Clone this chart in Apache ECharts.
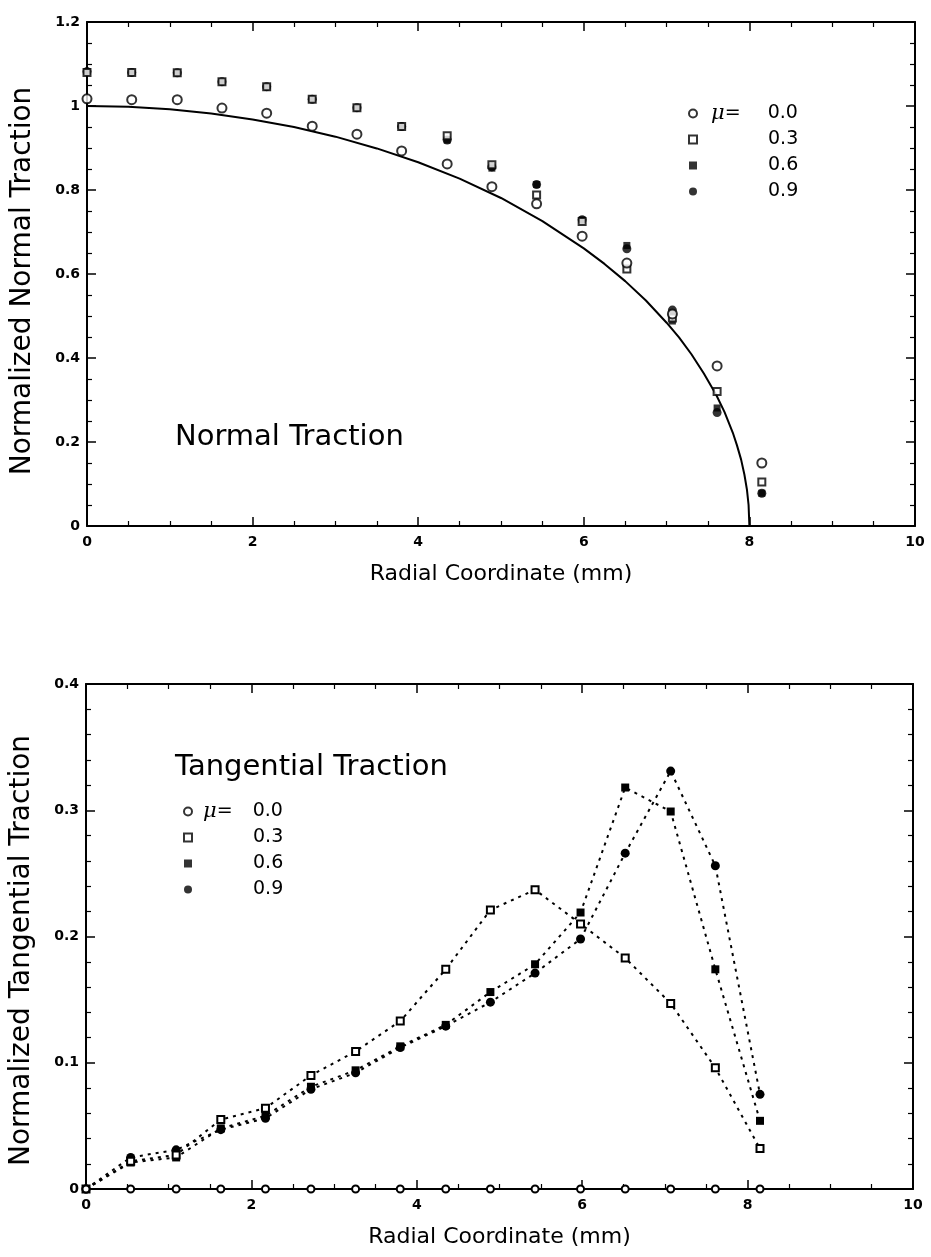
<!DOCTYPE html>
<html>
<head>
<meta charset="utf-8">
<script src="https://cdn.jsdelivr.net/npm/echarts/dist/echarts.min.js"></script>
<style>
html,body{margin:0;padding:0;background:#fff;}
#chart{width:931px;height:1257px;}
</style>
</head>
<body>
<div id="chart"></div>
<script>
// ---- data ----
const radial = [0, 0.54, 1.09, 1.63, 2.17, 2.72, 3.26, 3.80, 4.35, 4.89, 5.43, 5.98, 6.52, 7.07, 7.61, 8.15];
const muLabels = ['0.0', '0.3', '0.6', '0.9'];

// Normal traction (upper plot)
const normal00 = [1.017, 1.015, 1.015, 0.995, 0.983, 0.952, 0.933, 0.893, 0.862, 0.808, 0.767, 0.690, 0.626, 0.505, 0.381, 0.150];
const normal03 = [1.080, 1.080, 1.079, 1.058, 1.046, 1.016, 0.996, 0.951, 0.929, 0.860, 0.788, 0.725, 0.612, 0.495, 0.320, 0.105];
const normal06 = [1.082, 1.080, 1.079, 1.058, 1.046, 1.016, 0.996, 0.951, 0.919, 0.852, 0.813, 0.729, 0.668, 0.488, 0.281, 0.078];
const normal09 = [1.082, 1.080, 1.079, 1.058, 1.046, 1.016, 0.996, 0.951, 0.919, 0.855, 0.813, 0.729, 0.660, 0.514, 0.270, 0.078];

// Solid reference curve
const curveR = [0, 0.5, 1, 1.5, 2, 2.5, 3, 3.5, 4, 4.5, 5, 5.5, 6, 6.25, 6.5, 6.75, 7, 7.15, 7.3, 7.45, 7.6, 7.7, 7.8, 7.85, 7.9, 7.94, 7.97, 7.99, 8.0];
const curveP = [1.0, 0.998, 0.992, 0.982, 0.968, 0.950, 0.927, 0.899, 0.866, 0.827, 0.781, 0.726, 0.661, 0.624, 0.583, 0.537, 0.484, 0.449, 0.409, 0.363, 0.312, 0.271, 0.222, 0.192, 0.158, 0.122, 0.087, 0.050, 0.0];

// Tangential traction (lower plot)
const tang00 = [0, 0, 0, 0, 0, 0, 0, 0, 0, 0, 0, 0, 0, 0, 0, 0];
const tang03 = [0, 0.022, 0.027, 0.055, 0.064, 0.090, 0.109, 0.133, 0.174, 0.221, 0.237, 0.210, 0.183, 0.147, 0.096, 0.032];
const tang06 = [0, 0.021, 0.025, 0.048, 0.058, 0.081, 0.094, 0.113, 0.130, 0.156, 0.178, 0.219, 0.318, 0.299, 0.174, 0.054];
const tang09 = [0, 0.025, 0.031, 0.047, 0.056, 0.079, 0.092, 0.112, 0.129, 0.148, 0.171, 0.198, 0.266, 0.331, 0.256, 0.075];

// Axis ticks
const xTicks = [0, 2, 4, 6, 8, 10];
const yTicksNormal = [0, 0.2, 0.4, 0.6, 0.8, 1, 1.2];
const yTicksTang = [0, 0.1, 0.2, 0.3, 0.4];

// ---- build chart ----
const pairs = (xs, ys) => xs.map((x, i) => [x, ys[i]]);
const FONT = 'DejaVu Sans';
const symbols = ['emptyCircle', 'emptyRect', 'rect', 'circle'];

function axisCommon(showLabel) {
  return {
    axisLine: { show: true, onZero: false, lineStyle: { color: '#000', width: 2 } },
    axisTick: { show: true, inside: true, length: 9, lineStyle: { color: '#000', width: 1.5 } },
    minorTick: { show: true, length: 5, lineStyle: { color: '#000', width: 1.2 } },
    splitLine: { show: false },
    axisLabel: { show: showLabel, color: '#000', fontFamily: FONT, fontWeight: 'bold', fontSize: 14 },
  };
}
function xAx(grid, pos, ticks, showLabel, name) {
  const a = Object.assign(axisCommon(showLabel), {
    type: 'value', gridIndex: grid, position: pos,
    min: ticks[0], max: ticks[ticks.length - 1], interval: ticks[1] - ticks[0],
  });
  a.minorTick.splitNumber = 4;
  if (showLabel) a.axisLabel.margin = 9;
  if (name) {
    a.name = name; a.nameLocation = 'middle'; a.nameGap = 37;
    a.nameTextStyle = { color: '#000', fontFamily: FONT, fontSize: 22 };
  }
  return a;
}
function yAx(grid, pos, ticks, minorSplit, showLabel, name, pad) {
  const a = Object.assign(axisCommon(showLabel), {
    type: 'value', gridIndex: grid, position: pos,
    min: ticks[0], max: ticks[ticks.length - 1], interval: ticks[1] - ticks[0],
  });
  a.minorTick.splitNumber = minorSplit;
  if (showLabel) a.axisLabel.margin = 7;
  if (name) {
    a.name = name; a.nameLocation = 'middle'; a.nameGap = 50;
    a.nameTextStyle = { color: '#000', fontFamily: FONT, fontSize: 28, padding: [0, pad, 0, 0] };
  }
  return a;
}

function legendRich(startGap, muWidth) {
  return {
    s0: { width: startGap, fontSize: 19, fontFamily: FONT },
    mu: { fontStyle: 'italic', fontSize: 21, fontFamily: 'DejaVu Serif', color: '#000' },
    eq: { width: muWidth, fontSize: 19, fontFamily: FONT, color: '#000' },
    sp: { width: startGap + muWidth + 14, fontSize: 19, fontFamily: FONT },
    v: { fontSize: 19, fontFamily: FONT, color: '#000' },
  };
}
function legendFormatter(name) {
  return name === muLabels[0] ? '{s0| }{mu|μ}{eq|=}{v|' + name + '}' : '{sp| }{v|' + name + '}';
}
function makeLegend(left, top, startGap, muWidth) {
  return {
    left: left, top: top, orient: 'vertical', selectedMode: false,
    itemWidth: 8, itemHeight: 8, itemGap: 5, padding: 0,
    data: muLabels.map((m, i) => ({ name: m, icon: symbols[i] })),
    formatter: legendFormatter,
    textStyle: { color: '#000', fontFamily: FONT, fontSize: 19, lineHeight: 21, rich: legendRich(startGap, muWidth) },
  };
}

const normalSets = [normal00, normal03, normal06, normal09];
const normalSizes = [9, 7, 7, 9];
const tangSets = [tang00, tang03, tang06, tang09];
const tangSizes = [7, 7, 8, 9];

const series = [];
normalSets.forEach((arr, i) => {
  series.push({
    name: muLabels[i], type: 'scatter', xAxisIndex: 0, yAxisIndex: 0,
    symbol: symbols[i], symbolSize: normalSizes[i],
    itemStyle: { color: '#000', borderColor: '#000', borderWidth: i < 2 ? 2 : 0 },
    data: pairs(radial, arr), z: 3 + (3 - i),
  });
});
series.push({
  name: 'curve', type: 'line', xAxisIndex: 0, yAxisIndex: 0,
  showSymbol: false, smooth: false,
  lineStyle: { color: '#000', width: 2 }, data: pairs(curveR, curveP), z: 2,
});
tangSets.forEach((arr, i) => {
  series.push({
    name: muLabels[i], type: 'line', xAxisIndex: 2, yAxisIndex: 2,
    symbol: symbols[i], symbolSize: tangSizes[i], showSymbol: true,
    itemStyle: { color: '#000', borderColor: '#000', borderWidth: i < 2 ? 1.8 : 0 },
    lineStyle: { color: '#000', width: 2, type: [3, 5] },
    data: pairs(radial, arr), z: 3 + (3 - i),
  });
});

const option = {
  animation: false,
  backgroundColor: '#fff',
  grid: [
    { left: 87, top: 22, width: 828, height: 504 },
    { left: 86, top: 684, width: 827, height: 505 },
  ],
  title: [
    { text: 'Normal Traction', left: 170, top: 418, textStyle: { color: '#000', fontFamily: FONT, fontWeight: 'normal', fontSize: 29 } },
    { text: 'Tangential Traction', left: 170, top: 748, textStyle: { color: '#000', fontFamily: FONT, fontWeight: 'normal', fontSize: 29 } },
  ],
  legend: [
    makeLegend(688, 103, 9, 43),
    makeLegend(183, 801, 6, 36),
  ],
  xAxis: [
    xAx(0, 'bottom', xTicks, true, 'Radial Coordinate (mm)'),
    xAx(0, 'top', xTicks, false),
    xAx(1, 'bottom', xTicks, true, 'Radial Coordinate (mm)'),
    xAx(1, 'top', xTicks, false),
  ],
  yAxis: [
    yAx(0, 'left', yTicksNormal, 4, true, 'Normalized Normal Traction', 14),
    yAx(0, 'right', yTicksNormal, 4, false),
    yAx(1, 'left', yTicksTang, 5, true, 'Normalized Tangential Traction', 28),
    yAx(1, 'right', yTicksTang, 5, false),
  ],
  series: series,
};

const chart = echarts.init(document.getElementById('chart'), null, { renderer: 'canvas' });
chart.setOption(option);
</script>
</body>
</html>
